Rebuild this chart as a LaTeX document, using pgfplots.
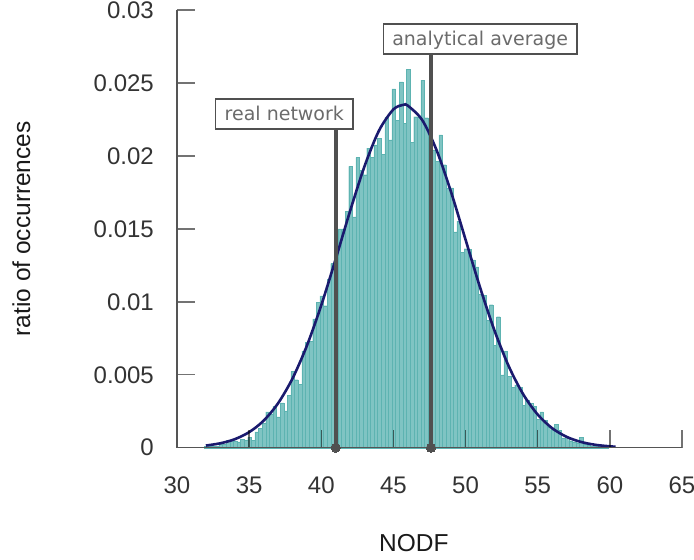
\documentclass[border=0pt]{standalone}
\usepackage{pgfplots}
\pgfplotsset{compat=1.18}
\usepackage{pgfplotstable}
\usepackage{fontspec}
\setmainfont{Liberation Sans}
\newfontfamily\dejavu{DejaVu Sans}
\definecolor{barfill}{HTML}{7FC4C3}
\definecolor{baredge}{HTML}{5DB3B1}
\definecolor{curve}{HTML}{1A1A6E}
\definecolor{vline}{HTML}{505050}
\definecolor{boxtext}{HTML}{6B6B6B}
\definecolor{axisgray}{HTML}{555555}
\definecolor{ticktext}{HTML}{333333}

\pgfplotstableread{
x y
32.025 0.00008
32.275 0.0001
32.525 0.0001
32.775 0.0001
33.025 0.00023
33.275 0.00023
33.525 0.00052
33.775 0.00052
34.025 0.00046
34.275 0.0004
34.525 0.00059
34.775 0.00052
35.025 0.00071
35.275 0.00052
35.525 0.00109
35.775 0.00132
36.025 0.00166
36.275 0.00246
36.525 0.0023
36.775 0.00284
37.025 0.00211
37.275 0.00307
37.525 0.00252
37.775 0.0036
38.025 0.00523
38.275 0.00466
38.525 0.00434
38.775 0.00662
39.025 0.00723
39.275 0.0073
39.525 0.00883
39.775 0.00996
40.025 0.01041
40.275 0.00973
40.525 0.01155
40.775 0.01262
41.025 0.0136
41.275 0.0150
41.525 0.0150
41.775 0.01621
42.025 0.01928
42.275 0.01582
42.525 0.01989
42.775 0.0190
43.025 0.01871
43.275 0.02053
43.525 0.01991
43.775 0.02076
44.025 0.02121
44.275 0.02012
44.525 0.02264
44.775 0.0211
45.025 0.0246
45.275 0.02246
45.525 0.02508
45.775 0.02223
46.025 0.02594
46.275 0.02092
46.525 0.02269
46.775 0.02269
47.025 0.02519
47.275 0.02262
47.525 0.0215
47.775 0.02042
48.025 0.01962
48.275 0.02144
48.525 0.0194
48.775 0.0178
49.025 0.0178
49.275 0.0148
49.525 0.01553
49.775 0.01341
50.025 0.01364
50.275 0.0136
50.525 0.01287
50.775 0.01239
51.025 0.01053
51.275 0.01046
51.525 0.00871
51.775 0.0098
52.025 0.0070
52.275 0.00898
52.525 0.0050
52.775 0.0066
53.025 0.00489
53.275 0.00416
53.525 0.0043
53.775 0.00416
54.025 0.00291
54.275 0.00325
54.525 0.00303
54.775 0.00284
55.025 0.00194
55.275 0.00246
55.525 0.00189
55.775 0.00143
56.025 0.00121
56.275 0.00162
56.525 0.00121
56.775 0.00068
57.025 0.00075
57.275 0.00048
57.525 0.00041
57.775 0.00034
58.025 0.00071
58.275 0.00023
58.525 0.0002
58.775 0.00013
59.025 0.00013
59.275 0.0001
59.525 0.00005
59.775 0.00005
}\hist

\pgfplotstableread{
x y
32.0 0.000147
33.0 0.000301
34.0 0.000581
35.0 0.001065
36.0 0.001848
37.0 0.003038
38.0 0.004733
39.0 0.006987
40.0 0.009767
41.0 0.012937
42.0 0.016231
43.0 0.019298
44.0 0.021735
45.0 0.02319
45.7 0.0235
46.0 0.023443
47.0 0.02245
48.0 0.02037
49.0 0.017508
50.0 0.014257
51.0 0.0110
52.0 0.00804
53.0 0.005567
54.0 0.003652
55.0 0.00227
56.0 0.001337
57.0 0.000745
58.0 0.000394
59.0 0.000197
60.0 0.0000935
60.4 0.0000684
}\fit

\begin{document}
\begin{tikzpicture}
\begin{axis}[
  scale only axis,
  width=505pt, height=437.7pt,
  xmin=30, xmax=65, ymin=0, ymax=0.03,
  axis x line*=bottom, axis y line*=left,
  axis line style={draw=axisgray, line width=1.3pt},
  axis on top, clip=false,
  xtick={30,35,...,65},
  ytick={0,0.005,0.01,0.015,0.02,0.025,0.03},
  scaled y ticks=false,
  tick align=inside,
  major tick length=18pt,
  major tick style={draw=black, line width=1.4pt, opacity=0.55},
  tick label style={font=\fontsize{24}{28}\selectfont, text=ticktext,
    /pgf/number format/assume math mode=true},
  yticklabel style={/pgf/number format/fixed, /pgf/number format/precision=3,
    anchor=east, inner sep=0pt, xshift=-23pt},
  xticklabel style={anchor=north, inner sep=0pt, yshift=-29pt},
  xlabel={NODF},
  ylabel={ratio of occurrences},
  label style={font=\fontsize{24.5}{28}\selectfont, text=black!90},
  xlabel style={at={(axis description cs:0.469,-0.2177)}, anchor=center},
  ylabel style={at={(axis description cs:-0.308,0.5)}, anchor=center, rotate=0},
]
\addplot[ybar, bar width=0.25, bar shift=0pt, fill=barfill, draw=baredge, line width=0.25pt] table[x=x,y=y] {\hist};
\addplot[smooth, color=curve, line width=2.6pt] table[x=x,y=y] {\fit};
\addplot[vline, line width=3.8pt, mark=*, mark indices={1}, mark size=4.6pt,
  mark options={fill=vline, draw=vline, line width=0pt}] coordinates {(41.0,0) (41.0,0.02187)};
\addplot[vline, line width=3.8pt, mark=*, mark indices={1}, mark size=4.6pt,
  mark options={fill=vline, draw=vline, line width=0pt}] coordinates {(47.6,0) (47.6,0.0270)};
\node[draw=vline, line width=1.4pt, fill=white, text=boxtext, font=\dejavu\fontsize{19}{22}\selectfont,
  inner xsep=9pt, inner ysep=0pt, minimum height=30pt, text height=14pt, text depth=1pt]
  at (axis cs:37.44,0.02286) {real network};
\node[draw=vline, line width=1.4pt, fill=white, text=boxtext, font=\dejavu\fontsize{19}{22}\selectfont,
  inner xsep=9pt, inner ysep=0pt, minimum height=30pt, text height=14pt, text depth=1pt]
  at (axis cs:51.01,0.0280) {analytical average};
\end{axis}
\pgfresetboundingbox
\path ([xshift=-177pt,yshift=-112.3pt]current axis.south west) rectangle ([xshift=12pt,yshift=10pt]current axis.north east);
\end{tikzpicture}
\end{document}
